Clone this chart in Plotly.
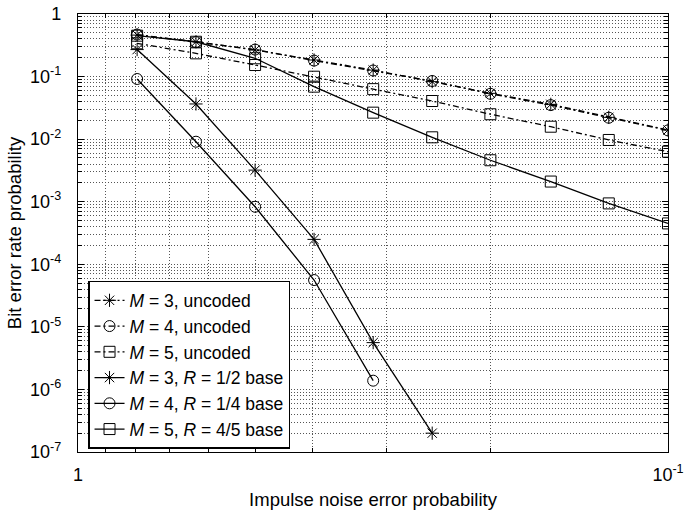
import plotly.graph_objects as go

# Impulse noise error probability (x) -- reversed log axis
x_vals = [0.794, 0.631, 0.501, 0.398, 0.316, 0.251, 0.2, 0.158, 0.126, 0.1]

m3_uncoded = [0.46, 0.36, 0.266, 0.184, 0.127, 0.083, 0.054, 0.036, 0.0223, 0.014]
m4_uncoded = [0.47, 0.355, 0.27, 0.18, 0.125, 0.085, 0.053, 0.035, 0.022, 0.0138]
m5_uncoded = [0.34, 0.235, 0.153, 0.0995, 0.063, 0.0407, 0.025, 0.0158, 0.0097, 0.0063]
m3_coded = [0.27, 0.0365, 0.0032, 2.5e-4, 5.6e-6, 2.0e-7]
m4_coded = [0.0915, 0.0091, 8.3e-4, 5.6e-5, 1.38e-6]
m5_coded = [0.45, 0.36, 0.196, 0.069, 0.0265, 0.0107, 0.0046, 0.0021, 9.4e-4, 4.5e-4]

names = [
    "<i>M</i> = 3, uncoded",
    "<i>M</i> = 4, uncoded",
    "<i>M</i> = 5, uncoded",
    "<i>M</i> = 3, <i>R</i> = 1/2 base",
    "<i>M</i> = 4, <i>R</i> = 1/4 base",
    "<i>M</i> = 5, <i>R</i> = 4/5 base",
]
series = [m3_uncoded, m4_uncoded, m5_uncoded, m3_coded, m4_coded, m5_coded]
symbols = ["asterisk-open", "circle-open", "square-open",
           "asterisk-open", "circle-open", "square-open"]
dashes = ["6px,3px,2px,3px"] * 3 + ["solid"] * 3

y_tickvals = [1, 1e-1, 1e-2, 1e-3, 1e-4, 1e-5, 1e-6, 1e-7]
y_ticktext = ["1", "10<sup>-1</sup>", "10<sup>-2</sup>", "10<sup>-3</sup>",
              "10<sup>-4</sup>", "10<sup>-5</sup>", "10<sup>-6</sup>", "10<sup>-7</sup>"]
x_tickvals = [1, 0.1]
x_ticktext = ["1", "10<sup>-1</sup>"]

fig = go.Figure()
for name, ys, sym, dash in zip(names, series, symbols, dashes):
    fig.add_trace(go.Scatter(
        x=x_vals[:len(ys)], y=ys, name=name, mode="lines+markers",
        line=dict(color="black", width=1.3, dash=dash),
        marker=dict(symbol=sym, size=11, color="black",
                    line=dict(color="black", width=1)),
    ))

y_minor = [d * 10.0 ** e for e in range(-7, 0) for d in range(2, 10)]
x_minor = [d / 10 for d in range(2, 10)]

grid_color = "#555555"
grid_dash = "1px,2px"
fig.update_xaxes(
    type="log", range=[0, -1], tickvals=x_tickvals, ticktext=x_ticktext,
    showgrid=False, showline=True, linecolor="black", linewidth=1.2,
    mirror="ticks", ticks="inside", ticklen=6, tickcolor="black",
    ticklabelstandoff=6, tickfont=dict(size=18), automargin=False,
    minor=dict(tickvals=x_minor, showgrid=True, gridcolor=grid_color,
               griddash=grid_dash, gridwidth=1, ticks="inside", ticklen=4,
               tickcolor="black"),
    title=dict(text="Impulse noise error probability", standoff=16,
               font=dict(size=18.5)),
    zeroline=False,
)
fig.update_yaxes(
    type="log", range=[-7, 0], tickvals=y_tickvals, ticktext=y_ticktext,
    showgrid=True, gridcolor=grid_color, griddash=grid_dash, gridwidth=1,
    showline=True, linecolor="black", linewidth=1.2,
    mirror="ticks", ticks="inside", ticklen=6, tickcolor="black",
    ticklabelstandoff=12, tickfont=dict(size=18), automargin=False,
    minor=dict(tickvals=y_minor, showgrid=True, gridcolor=grid_color,
               griddash=grid_dash, gridwidth=1, ticks="inside", ticklen=4,
               tickcolor="black"),
    title=dict(text="Bit error rate probability", standoff=3,
               font=dict(size=18.5)),
    zeroline=False,
)

fig.update_layout(
    width=695, height=510,
    margin=dict(l=78, r=27, t=14, b=58),
    paper_bgcolor="white", plot_bgcolor="white",
    font=dict(family="Liberation Sans, Arial, sans-serif", size=16, color="black"),
    showlegend=True,
    legend=dict(x=0.017, y=0.007, xanchor="left", yanchor="bottom",
                bgcolor="white", bordercolor="black", borderwidth=1.5,
                font=dict(size=17.5), tracegroupgap=0, itemwidth=30),
)

fig.write_html("out.html")
